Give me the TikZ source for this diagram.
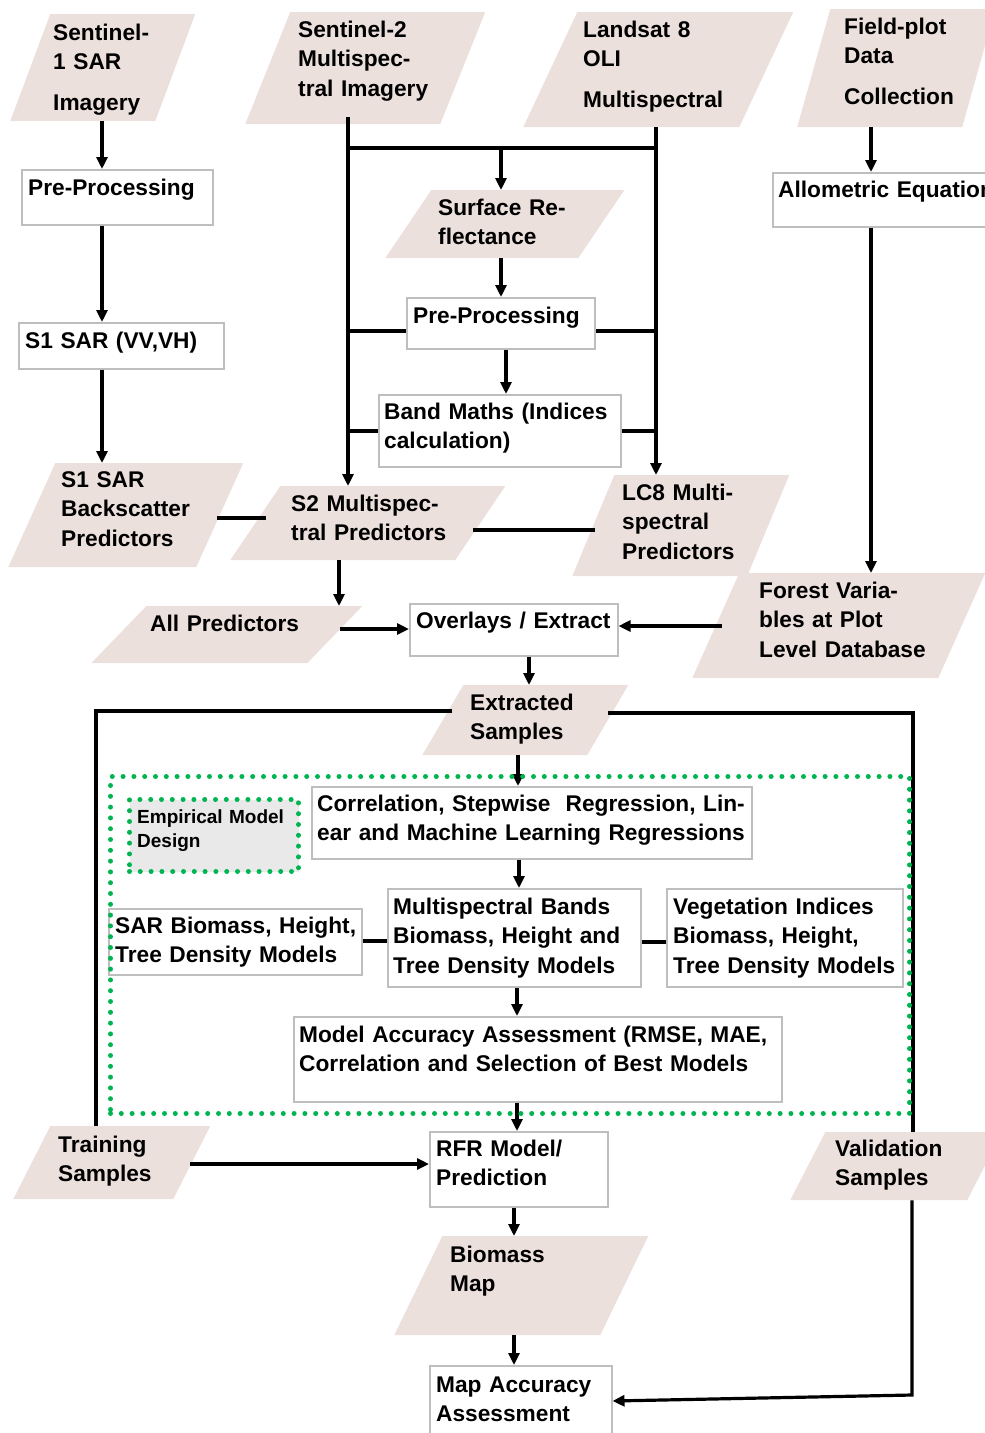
\documentclass[tikz,border=0pt]{standalone}
\usepackage{fontspec}
\setmainfont{Liberation Sans}
\usetikzlibrary{arrows.meta,calc}
\definecolor{pfill}{RGB}{236,224,221}
\definecolor{bgray}{RGB}{190,190,190}
\definecolor{dgreen}{RGB}{0,180,80}
\tikzset{
  rbox/.style={draw=bgray, line width=1.5pt, fill=white, anchor=north west, inner sep=0pt},
  para/.style={anchor=north west, inner sep=0pt,
    path picture={\fill[pfill] ([xshift=#1]path picture bounding box.north west)
      -- (path picture bounding box.north east)
      -- ([xshift=-#1]path picture bounding box.south east)
      -- (path picture bounding box.south west) -- cycle;}},
  gdot/.style={draw=dgreen, line width=5pt, line cap=round, dash pattern=on 0pt off 10.8pt, anchor=north west, inner sep=0pt},
  txt/.style={anchor=base west, inner sep=0pt, font=\fontsize{22.7}{29.5}\selectfont\bfseries, text width=520pt, align=left},
  conn/.style={line width=3.2pt},
  conna/.style={conn, -{Triangle[length=12pt,width=11pt]}}
}
\begin{document}
\begin{tikzpicture}[x=1pt,y=-1pt]
\useasboundingbox (0,0) rectangle (985,1433);
% input / data shapes (parallelograms)
\node[para=40, minimum width=185, minimum height=107] (s1in) at (10,14) {};
\node[para=45, minimum width=240, minimum height=112] (s2in) at (245,12) {};
\node[para=54, minimum width=270, minimum height=115] (lsin) at (523,12) {};
\node[para=33, minimum width=198, minimum height=118] (fpin) at (797,9) {};
\node[para=46, minimum width=239, minimum height=68] (sr) at (385,190) {};
\node[para=47, minimum width=235, minimum height=104] (s1bp) at (8,463) {};
\node[para=50, minimum width=275, minimum height=74] (s2p) at (230,486) {};
\node[para=42, minimum width=217, minimum height=101] (lc8p) at (572,475) {};
\node[para=55, minimum width=271, minimum height=57] (allp) at (91,606) {};
\node[para=47, minimum width=293, minimum height=105] (fv) at (692,573) {};
\node[para=41, minimum width=206, minimum height=70] (ex) at (422,685) {};
\node[para=37, minimum width=197, minimum height=73] (tr) at (13,1126) {};
\node[para=35, minimum width=212, minimum height=68] (va) at (790,1132) {};
\node[para=48, minimum width=254, minimum height=99] (bm) at (394,1236) {};
% process boxes
\node[rbox, minimum width=191, minimum height=55] (pp1) at (21,169) {};
\node[rbox, minimum width=205, minimum height=46] (sar) at (18,322) {};
\node[rbox, minimum width=240, minimum height=54] (al) at (772,172) {};
\node[rbox, minimum width=188, minimum height=51] (pp2) at (406,297) {};
\node[rbox, minimum width=242, minimum height=72] (bmath) at (378,394) {};
\node[rbox, minimum width=208, minimum height=52] (ov) at (409,603) {};
\node[rbox, minimum width=440, minimum height=72] (cor) at (311,786) {};
\node[rbox, minimum width=253, minimum height=98] (mb) at (387,888) {};
\node[rbox, minimum width=253, minimum height=66] (sarm) at (108,908) {};
\node[rbox, minimum width=236, minimum height=98] (vi) at (666,888) {};
\node[rbox, minimum width=488, minimum height=85] (ma) at (293,1016) {};
\node[rbox, minimum width=178, minimum height=75] (rfr) at (429,1131) {};
\node[rbox, minimum width=182, minimum height=80] (mac) at (429,1365) {};
\node[gdot, fill=gray!17, minimum width=169, minimum height=72] (emp) at (127,797) {};
% helper coordinates
\coordinate (x102) at (102,0); \coordinate (x348) at (348,0); \coordinate (x656) at (656,0);
\coordinate (x501) at (501,0); \coordinate (x506) at (506,0); \coordinate (x339) at (339,0);
\coordinate (x529) at (529,0); \coordinate (x518) at (518,0); \coordinate (x519) at (519,0);
\coordinate (x517) at (517,0); \coordinate (x514) at (514,0); \coordinate (x871) at (871,0);
\coordinate (x96) at (96,0); \coordinate (x913) at (913,0); \coordinate (x912) at (912,0);
\coordinate (y148) at (0,148); \coordinate (y331) at (0,331); \coordinate (y431) at (0,431);
\coordinate (y518) at (0,518); \coordinate (y530) at (0,530); \coordinate (y629) at (0,629);
\coordinate (y626) at (0,626); \coordinate (y941) at (0,941); \coordinate (y942) at (0,942);
\coordinate (y1164) at (0,1164); \coordinate (y711) at (0,711); \coordinate (y713) at (0,713);
\coordinate (y1395) at (0,1395); \coordinate (y1401) at (0,1401);
% connectors
\draw[conna] (s1in.south -| x102) -- (pp1.north -| x102);
\draw[conna] (pp1.south -| x102) -- (sar.north -| x102);
\draw[conna] (sar.south -| x102) -- (s1bp.north -| x102);
\draw[conna] ([yshift=7pt]s2in.south -| x348) -- (s2p.north -| x348);
\draw[conn] (x348 |- y148) -- (x656 |- y148);
\draw[conna] (x501 |- y148) -- (sr.north -| x501);
\draw[conna] (lsin.south -| x656) -- (lc8p.north -| x656);
\draw[conna] (sr.south -| x501) -- (pp2.north -| x501);
\draw[conn] (pp2.west |- y331) -- (x348 |- y331);
\draw[conn] (pp2.east |- y331) -- (x656 |- y331);
\draw[conna] (pp2.south -| x506) -- (bmath.north -| x506);
\draw[conn] (bmath.west |- y431) -- (x348 |- y431);
\draw[conn] (bmath.east |- y431) -- (x656 |- y431);
\draw[conn] ($(s1bp.east |- y518)+(-26,0)$) -- ($(s2p.west |- y518)+(36,0)$);
\draw[conn] ($(s2p.east |- y530)+(-32,0)$) -- ($(lc8p.west |- y530)+(23,0)$);
\draw[conna] (s2p.south -| x339) -- (allp.north -| x339);
\draw[conna] ($(allp.east |- y629)+(-22,0)$) -- (ov.west |- y629);
\draw[conna] ($(fv.west |- y626)+(30,0)$) -- (ov.east |- y626);
\draw[conna] (fpin.south -| x871) -- (al.north -| x871);
\draw[conna] (al.south -| x871) -- (fv.north -| x871);
\draw[conna] (ov.south -| x529) -- (ex.north -| x529);
\draw[conna] (ex.south -| x518) -- (cor.north -| x518);
\draw[conna] (cor.south -| x519) -- (mb.north -| x519);
\draw[conn] (sarm.east |- y941) -- (mb.west |- y941);
\draw[conn] (mb.east |- y942) -- (vi.west |- y942);
\draw[conna] (mb.south -| x517) -- (ma.north -| x517);
\draw[conna] (ma.south -| x517) -- (rfr.north -| x517);
\draw[conna] ($(tr.east |- y1164)+(-20,0)$) -- (rfr.west |- y1164);
\draw[conna] (rfr.south -| x514) -- (bm.north -| x514);
\draw[conna] (bm.south -| x514) -- (mac.north -| x514);
\draw[conn] ($(ex.west |- y711)+(30,0)$) -- (x96 |- y711) -- (tr.north -| x96);
\draw[conn] ($(ex.east |- y713)+(-20,0)$) -- (x913 |- y713) -- (va.north -| x913);
\draw[conna] (va.south -| x912) -- (x912 |- y1395) -- (mac.east |- y1401);
% dotted group frame
\node[gdot, minimum width=799, minimum height=337] (grp) at (108,774) {};
% texts
\node[txt] (t1) at (53,40) {Sentinel-\\1 SAR\\[11.5pt]Imagery};
\node[txt] (t2) at (298,37) {Sentinel-2\\Multispec-\\tral Imagery};
\node[txt] (t3) at (583,37) {Landsat 8\\OLI\\[11.5pt]Multispectral};
\node[txt] (t4) at (844,34) {Field-plot\\Data\\[11.5pt]Collection};
\node[txt] (t5) at (28,195) {Pre-Processing};
\node[txt] (t6) at (778,197) {Allometric Equation};
\node[txt] (t7) at (25,348) {S1 SAR (VV,VH)};
\node[txt] (t8) at (438,215) {Surface Re-\\flectance};
\node[txt] (t9) at (413,323) {Pre-Processing};
\node[txt] (t10) at (384,419) {Band Maths (Indices\\calculation)};
\node[txt] (t11) at (61,487) {S1 SAR\\Backscatter\\Predictors};
\node[txt] (t12) at (291,511) {S2 Multispec-\\tral Predictors};
\node[txt] (t13) at (622,500) {LC8 Multi-\\spectral\\Predictors};
\node[txt] (t14) at (150,631) {All Predictors};
\node[txt] (t15) at (416,628) {Overlays / Extract};
\node[txt] (t16) at (759,598) {Forest Varia-\\bles at Plot\\Level Database};
\node[txt] (t17) at (470,710) {Extracted\\Samples};
\node[txt, font=\fontsize{19}{24}\selectfont\bfseries] (t18) at (137,823) {Empirical Model\\Design};
\node[txt] (t19) at (317,811) {Correlation, Stepwise~ Regression, Lin-\\ear and Machine Learning Regressions};
\node[txt] (t20) at (115,933) {SAR Biomass, Height,\\Tree Density Models};
\node[txt] (t21) at (393,914) {Multispectral Bands\\Biomass, Height and\\Tree Density Models};
\node[txt] (t22) at (673,914) {Vegetation Indices\\Biomass, Height,\\Tree Density Models};
\node[txt] (t23) at (299,1042) {Model Accuracy Assessment (RMSE, MAE,\\Correlation and Selection of Best Models};
\node[txt] (t24) at (58,1152) {Training\\Samples};
\node[txt] (t25) at (436,1156) {RFR Model/\\Prediction};
\node[txt] (t26) at (835,1156) {Validation\\Samples};
\node[txt] (t27) at (450,1262) {Biomass\\Map};
\node[txt] (t28) at (436,1392) {Map Accuracy\\Assessment};
\end{tikzpicture}
\end{document}
